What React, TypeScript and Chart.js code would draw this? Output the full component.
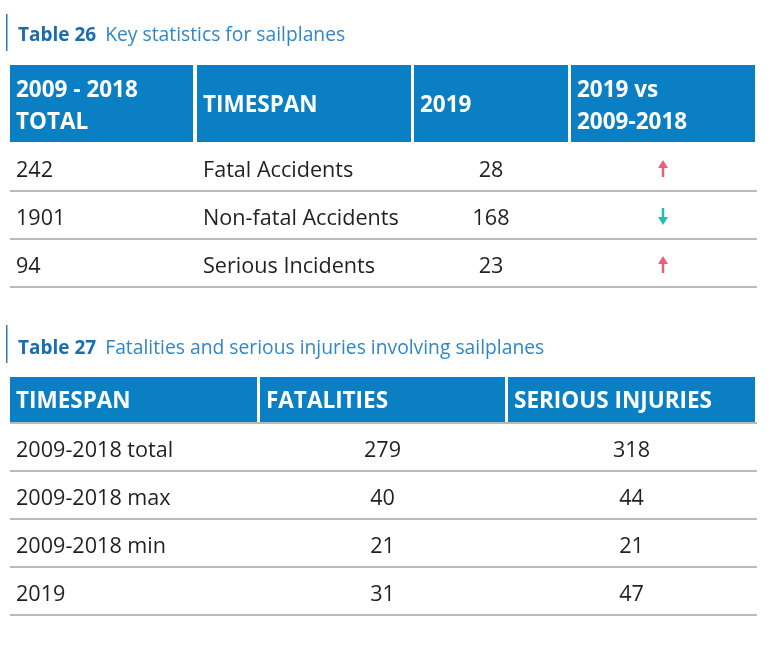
import React, { useEffect, useRef } from 'react';
import { Chart, registerables } from 'chart.js';

Chart.register(...registerables);

const WIDTH = 777;
const HEIGHT = 649;

// ---- Table 26 data ----
const table26Label = 'Table 26';
const table26Caption = 'Key statistics for sailplanes';
const table26Headers = [['2009 - 2018', 'TOTAL'], ['TIMESPAN'], ['2019'], ['2019 vs', '2009-2018']];
const occurrenceTypes = ['Fatal Accidents', 'Non-fatal Accidents', 'Serious Incidents'];
const totals2009to2018 = [242, 1901, 94];
const values2019 = [28, 168, 23];
const trend2019 = ['up', 'down', 'up'];

// ---- Table 27 data ----
const table27Label = 'Table 27';
const table27Caption = 'Fatalities and serious injuries involving sailplanes';
const table27Headers = ['TIMESPAN', 'FATALITIES', 'SERIOUS INJURIES'];
const timespans = ['2009-2018 total', '2009-2018 max', '2009-2018 min', '2019'];
const fatalities = [279, 40, 21, 31];
const seriousInjuries = [318, 44, 21, 47];

const FONT = '"Open Sans", "Noto Sans", sans-serif';
const HEADER_BG = '#0a7fc3';
const TEXT = '#231f20';
const RULE = '#a3a3a3';
const TITLE_BOLD = '#1a6eae';
const TITLE_REG = '#2f87c8';
const UP = '#ec5f79';
const DOWN = '#1dbfb1';

function drawTitle(ctx: CanvasRenderingContext2D, label: string, caption: string, barTop: number, barBottom: number, baseline: number) {
  ctx.fillStyle = '#2a7bbb';
  ctx.fillRect(6, barTop, 1.5, barBottom - barTop);
  ctx.textAlign = 'left';
  ctx.textBaseline = 'alphabetic';
  ctx.font = `bold 19px ${FONT}`;
  ctx.fillStyle = TITLE_BOLD;
  ctx.fillText(label, 18, baseline);
  const w = ctx.measureText(label).width;
  ctx.font = `19.3px ${FONT}`;
  ctx.fillStyle = TITLE_REG;
  ctx.fillText(caption, 18 + w + 9, baseline);
}

function drawHeader(ctx: CanvasRenderingContext2D, cols: number[][], top: number, bottom: number, headers: string[][]) {
  ctx.font = `bold 22.5px ${FONT}`;
  ctx.textAlign = 'left';
  ctx.textBaseline = 'alphabetic';
  cols.forEach(([x0, x1], i) => {
    ctx.fillStyle = HEADER_BG;
    ctx.fillRect(x0, top, x1 - x0, bottom - top);
    ctx.fillStyle = '#ffffff';
    const lines = headers[i];
    if (lines.length === 2) {
      ctx.fillText(lines[0], x0 + 6, top + 32);
      ctx.fillText(lines[1], x0 + 6, top + 63.5);
    } else {
      ctx.fillText(lines[0], x0 + 6, (top + bottom) / 2 + 8.5);
    }
  });
}

function drawRule(ctx: CanvasRenderingContext2D, y: number) {
  ctx.strokeStyle = RULE;
  ctx.lineWidth = 1.5;
  ctx.beginPath();
  ctx.moveTo(10, y);
  ctx.lineTo(757, y);
  ctx.stroke();
}

function drawArrow(ctx: CanvasRenderingContext2D, cx: number, top: number, bottom: number, dir: string) {
  const color = dir === 'up' ? UP : DOWN;
  ctx.strokeStyle = color;
  ctx.fillStyle = color;
  ctx.lineWidth = 2.5;
  ctx.beginPath();
  if (dir === 'up') {
    ctx.moveTo(cx, top + 6);
    ctx.lineTo(cx, bottom);
  } else {
    ctx.moveTo(cx, top);
    ctx.lineTo(cx, bottom - 6);
  }
  ctx.stroke();
  ctx.beginPath();
  if (dir === 'up') {
    ctx.moveTo(cx, top);
    ctx.lineTo(cx - 5, top + 8);
    ctx.lineTo(cx + 5, top + 8);
  } else {
    ctx.moveTo(cx, bottom);
    ctx.lineTo(cx - 5, bottom - 8);
    ctx.lineTo(cx + 5, bottom - 8);
  }
  ctx.closePath();
  ctx.fill();
}

const tablesPlugin = {
  id: 'tables',
  afterDraw(chart: any) {
    const ctx: CanvasRenderingContext2D = chart.ctx;
    ctx.save();

    // ---------- Table 26 ----------
    drawTitle(ctx, table26Label, table26Caption, 14, 51, 41);
    const cols26 = [[10, 193], [197, 411], [414, 568], [571, 755]];
    drawHeader(ctx, cols26, 65, 142, table26Headers);
    occurrenceTypes.forEach((name, i) => {
      const lineY = 143 + 48 * (i + 1);
      const base = lineY - 14;
      ctx.font = `21.6px ${FONT}`;
      ctx.fillStyle = TEXT;
      ctx.textBaseline = 'alphabetic';
      ctx.textAlign = 'left';
      ctx.fillText(String(totals2009to2018[i]), cols26[0][0] + 6, base);
      ctx.fillText(name, cols26[1][0] + 6, base);
      ctx.textAlign = 'center';
      ctx.fillText(String(values2019[i]), (cols26[2][0] + cols26[2][1]) / 2, base);
      drawArrow(ctx, (cols26[3][0] + cols26[3][1]) / 2, base - 17, base, trend2019[i]);
      drawRule(ctx, lineY);
    });

    // ---------- Table 27 ----------
    drawTitle(ctx, table27Label, table27Caption, 325, 363, 354);
    const cols27 = [[10, 257], [260, 505], [508, 755]];
    drawHeader(ctx, cols27, 377, 422, table27Headers.map((h) => [h]));
    drawRule(ctx, 423);
    timespans.forEach((name, i) => {
      const lineY = 423 + 48 * (i + 1);
      const base = lineY - 14.5;
      ctx.font = `21.6px ${FONT}`;
      ctx.fillStyle = TEXT;
      ctx.textBaseline = 'alphabetic';
      ctx.textAlign = 'left';
      ctx.fillText(name, cols27[0][0] + 6, base);
      ctx.textAlign = 'center';
      ctx.fillText(String(fatalities[i]), (cols27[1][0] + cols27[1][1]) / 2, base);
      ctx.fillText(String(seriousInjuries[i]), (cols27[2][0] + cols27[2][1]) / 2, base);
      drawRule(ctx, lineY);
    });

    ctx.restore();
  },
};

export default function App() {
  const canvasRef = useRef<HTMLCanvasElement | null>(null);

  useEffect(() => {
    document.body.style.margin = '0';
    document.body.style.background = '#ffffff';
    const canvas = canvasRef.current;
    if (!canvas) return;
    const chart = new Chart(canvas, {
      type: 'scatter',
      data: { datasets: [] },
      options: {
        responsive: false,
        animation: false,
        devicePixelRatio: 1,
        events: [],
        layout: { padding: 0 },
        plugins: { legend: { display: false }, tooltip: { enabled: false }, title: { display: false } },
        scales: { x: { display: false }, y: { display: false } },
      },
      plugins: [tablesPlugin],
    });
    return () => chart.destroy();
  }, []);

  return (
    <div style={{ width: WIDTH, height: HEIGHT, background: '#fff' }}>
      <canvas ref={canvasRef} width={WIDTH} height={HEIGHT} style={{ display: 'block' }} />
    </div>
  );
}
